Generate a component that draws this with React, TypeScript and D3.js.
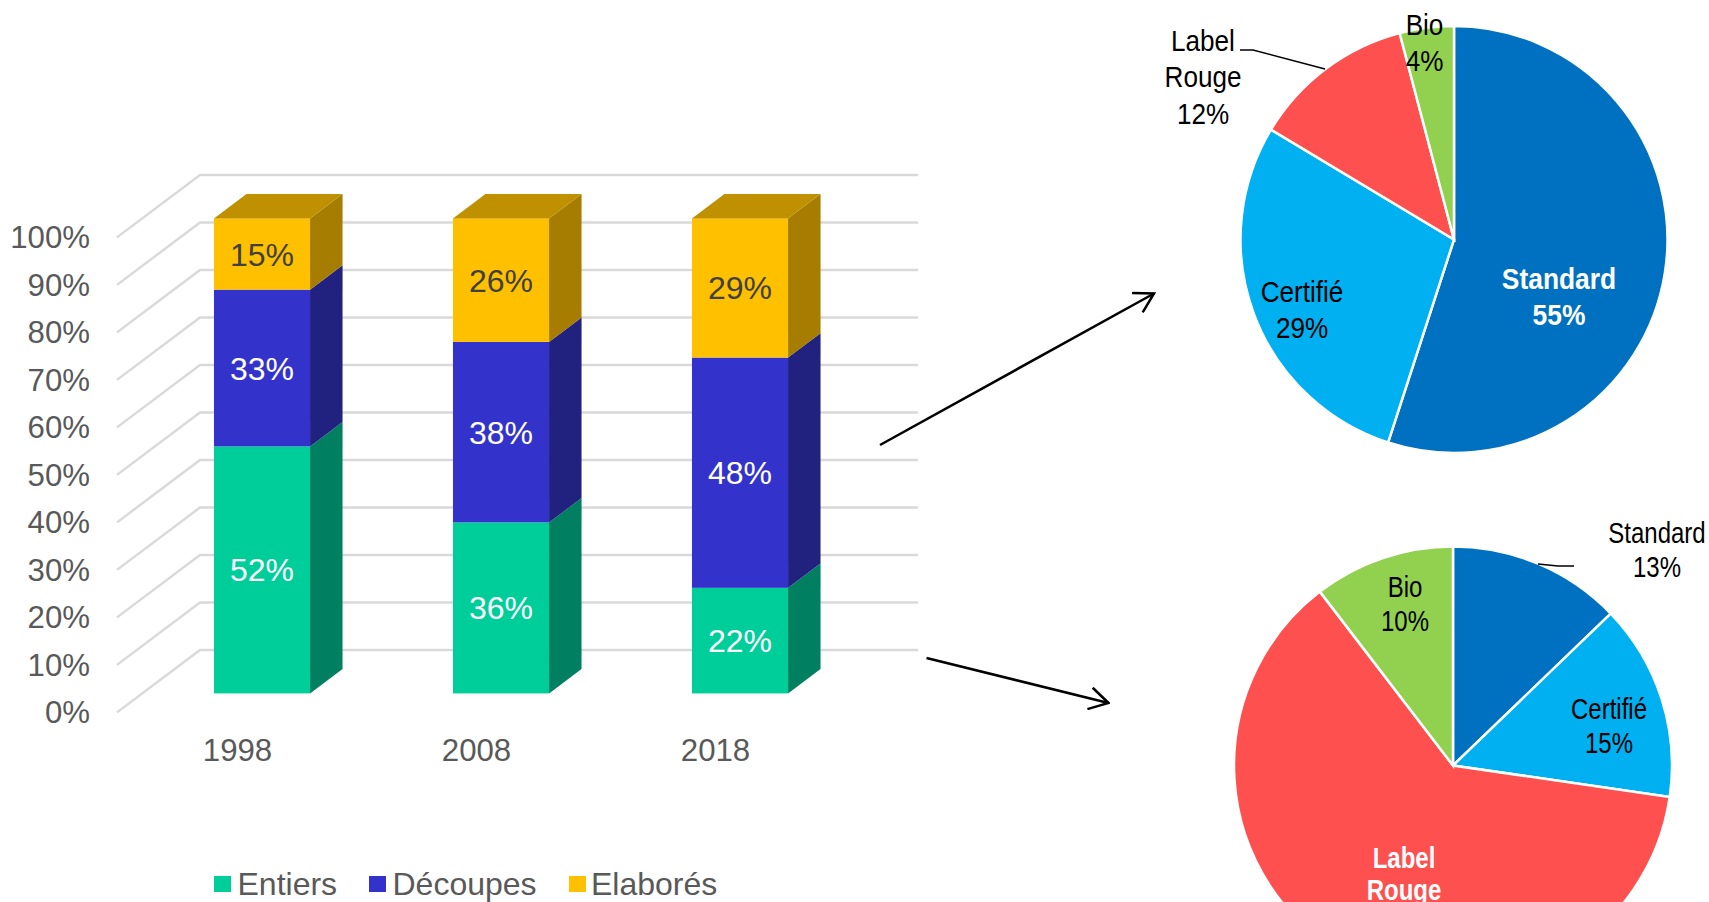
import React, { useEffect, useRef } from 'react';
import * as d3 from 'd3';

const years = ['1998', '2008', '2018'];
const seriesNames = ['Entiers', 'Découpes', 'Elaborés'];
const entiers = [52, 36, 22];
const decoupes = [33, 38, 48];
const elabores = [15, 26, 29];
const yTicks = [0, 0.1, 0.2, 0.3, 0.4, 0.5, 0.6, 0.7, 0.8, 0.9, 1];

const pieNames = ['Standard', 'Certifié', 'Label Rouge', 'Bio'];
const pieTopValues = [55, 28.6, 12.3, 4.1];
const pieTopLabels = ['55%', '29%', '12%', '4%'];
const pieBottomValues = [12.8, 14.5, 62.3, 10.4];
const pieBottomLabels = ['13%', '15%', '62%', '10%'];

const frontColors = ['#00CE9A', '#3333CC', '#FFC000'];
const sideColors = ['#008060', '#212180', '#A67D00'];
const topColor = '#BF9000';
const pieColors = ['#0070C0', '#00B0F0', '#FF5050', '#92D050'];

const FONT = '"Liberation Sans", Arial, sans-serif';

const App = () => {
  const ref = useRef<SVGSVGElement>(null);

  useEffect(() => {
    const svg = d3.select(ref.current);
    svg.selectAll('*').remove();

    const rows = years.map((year, i) => ({
      year,
      Entiers: entiers[i],
      'Découpes': decoupes[i],
      'Elaborés': elabores[i],
    }));

    // back wall of the 3d chart
    const y = d3.scaleLinear().domain([0, 1]).range([650, 175]);
    const x = d3.scaleBand()
      .domain(years)
      .range([142.5, 859.5])
      .paddingInner(0.598)
      .paddingOuter(0.299);

    const wallLeft = 200;
    const wallRight = 918;
    const floorDx = 83;
    const floorDy = 62.4;
    const barDy = 43.4;
    const sideDx = 32.5;
    const sideDy = 24.3;

    const grid = svg.append('g').attr('fill', 'none').attr('stroke', '#D9D9D9').attr('stroke-width', 2.4);
    const line = d3.line();
    yTicks.forEach(t => {
      grid.append('path').attr('d', line([
        [wallLeft - floorDx, y(t) + floorDy],
        [wallLeft, y(t)],
        [wallRight, y(t)],
      ]));
    });

    svg.append('g')
      .attr('font-family', FONT)
      .attr('font-size', 31.2)
      .attr('fill', '#595959')
      .attr('text-anchor', 'end')
      .selectAll('text')
      .data(yTicks)
      .join('text')
      .attr('x', 90)
      .attr('y', d => y(d) + floorDy + 11)
      .text(d3.format('.0%'));

    const stacked = d3.stack()
      .keys(seriesNames)
      .offset(d3.stackOffsetExpand)(rows as any);

    const bars = svg.append('g');
    stacked.forEach((layer, s) => {
      layer.forEach((d: any) => {
        const x0 = x(d.data.year) as number;
        const x1 = x0 + x.bandwidth();
        const yBottom = y(d[0]) + barDy;
        const yTop = y(d[1]) + barDy;
        bars.append('path').attr('fill', sideColors[s]).attr('d', line([
          [x1, yTop],
          [x1 + sideDx, yTop - sideDy],
          [x1 + sideDx, yBottom - sideDy],
          [x1, yBottom],
        ]) + 'Z');
        bars.append('rect')
          .attr('x', x0)
          .attr('y', yTop)
          .attr('width', x.bandwidth())
          .attr('height', yBottom - yTop)
          .attr('fill', frontColors[s]);
        if (s === stacked.length - 1) {
          bars.append('path').attr('fill', topColor).attr('d', line([
            [x0, yTop],
            [x0 + sideDx, yTop - sideDy],
            [x1 + sideDx, yTop - sideDy],
            [x1, yTop],
          ]) + 'Z');
        }
        bars.append('text')
          .attr('x', (x0 + x1) / 2)
          .attr('y', (yTop + yBottom) / 2 + 11.5)
          .attr('text-anchor', 'middle')
          .attr('font-family', FONT)
          .attr('font-size', 32)
          .attr('fill', s === 2 ? '#404040' : '#FFFFFF')
          .text(d.data[seriesNames[s]] + '%');
      });
    });

    // year labels sit on the floor, left of the bars
    svg.append('g')
      .attr('font-family', FONT)
      .attr('font-size', 31.2)
      .attr('fill', '#595959')
      .attr('text-anchor', 'middle')
      .selectAll('text')
      .data(years)
      .join('text')
      .attr('x', d => (x(d) as number) + x.bandwidth() / 2 - 24.5)
      .attr('y', 761)
      .text(d => d);

    const legendSquares = [214, 369, 569];
    const legendTexts = [237.5, 392.5, 591];
    const legend = svg.append('g').attr('font-family', FONT).attr('font-size', 32).attr('fill', '#595959');
    seriesNames.forEach((name, i) => {
      legend.append('rect')
        .attr('x', legendSquares[i])
        .attr('y', 876)
        .attr('width', 17)
        .attr('height', 16)
        .attr('fill', frontColors[i]);
      legend.append('text')
        .attr('x', legendTexts[i])
        .attr('y', 895)
        .text(name);
    });

    const drawPie = (values: number[], cx: number, cy: number, r: number) => {
      const pie = d3.pie<number>().sort(null)(values);
      const arc = d3.arc<d3.PieArcDatum<number>>().innerRadius(0).outerRadius(r);
      svg.append('g')
        .attr('transform', `translate(${cx},${cy})`)
        .selectAll('path')
        .data(pie)
        .join('path')
        .attr('d', arc)
        .attr('fill', (_, i) => pieColors[i])
        .attr('stroke', '#FFFFFF')
        .attr('stroke-width', 2.5);
    };
    drawPie(pieTopValues, 1454, 239.5, 213.5);
    drawPie(pieBottomValues, 1453, 765.5, 219);

    // pie text is arial squeezed horizontally in the source
    const pieText = (lines: string[], cx: number, firstY: number, sx: number, lead: number, fill = '#000000', bold = false) => {
      const g = svg.append('g')
        .attr('transform', `translate(${cx},0) scale(${sx},1)`)
        .attr('font-family', FONT)
        .attr('font-size', 30)
        .attr('font-weight', bold ? 700 : 400)
        .attr('fill', fill)
        .attr('text-anchor', 'middle');
      lines.forEach((l, i) => {
        g.append('text').attr('x', 0).attr('y', firstY + i * lead).text(l);
      });
    };
    pieText([pieNames[3], pieTopLabels[3]], 1424.5, 35, 0.87, 36.5);
    pieText(['Label', 'Rouge', pieTopLabels[2]], 1203, 51, 0.87, 36.5);
    pieText([pieNames[1], pieTopLabels[1]], 1302, 302, 0.87, 36.5);
    pieText([pieNames[0], pieTopLabels[0]], 1559, 289, 0.88, 36.5, '#FFFFFF', true);
    pieText([pieNames[0], pieBottomLabels[0]], 1657, 543, 0.8, 34);
    pieText([pieNames[1], pieBottomLabels[1]], 1609, 719, 0.8, 34);
    pieText([pieNames[3], pieBottomLabels[3]], 1405, 597, 0.8, 34);
    pieText(['Label', 'Rouge'], 1404, 868, 0.8, 32.5, '#FFFFFF', true);

    const leader = svg.append('g').attr('fill', 'none').attr('stroke', '#000000').attr('stroke-width', 1.5);
    const labelRougeLeader: [number, number][] = [[1240, 50], [1253, 50], [1325, 69]];
    const standardLeader: [number, number][] = [[1538, 564], [1558, 566], [1574, 566]];
    leader.append('path').attr('d', line(labelRougeLeader));
    leader.append('path').attr('d', line(standardLeader));

    const defs = svg.append('defs');
    defs.append('marker')
      .attr('id', 'open-arrow')
      .attr('viewBox', '0 0 12 12')
      .attr('refX', 11)
      .attr('refY', 6)
      .attr('markerWidth', 24)
      .attr('markerHeight', 24)
      .attr('markerUnits', 'userSpaceOnUse')
      .attr('orient', 'auto')
      .append('path')
      .attr('d', 'M1.5,0.5 L11,6 L1.5,11.5')
      .attr('fill', 'none')
      .attr('stroke', '#000000')
      .attr('stroke-width', 1.25);

    const arrows: [number, number][][] = [
      [[880, 445], [1154, 293.5]],
      [[926.5, 658], [1108.5, 703]],
    ];
    svg.append('g')
      .selectAll('path')
      .data(arrows)
      .join('path')
      .attr('d', d => line(d))
      .attr('fill', 'none')
      .attr('stroke', '#000000')
      .attr('stroke-width', 2.5)
      .attr('marker-end', 'url(#open-arrow)');
  }, []);

  return (
    <svg
      ref={ref}
      width={1709}
      height={902}
      style={{ position: 'absolute', left: 0, top: 0, display: 'block', background: '#FFFFFF' }}
    />
  );
};

export default App;
